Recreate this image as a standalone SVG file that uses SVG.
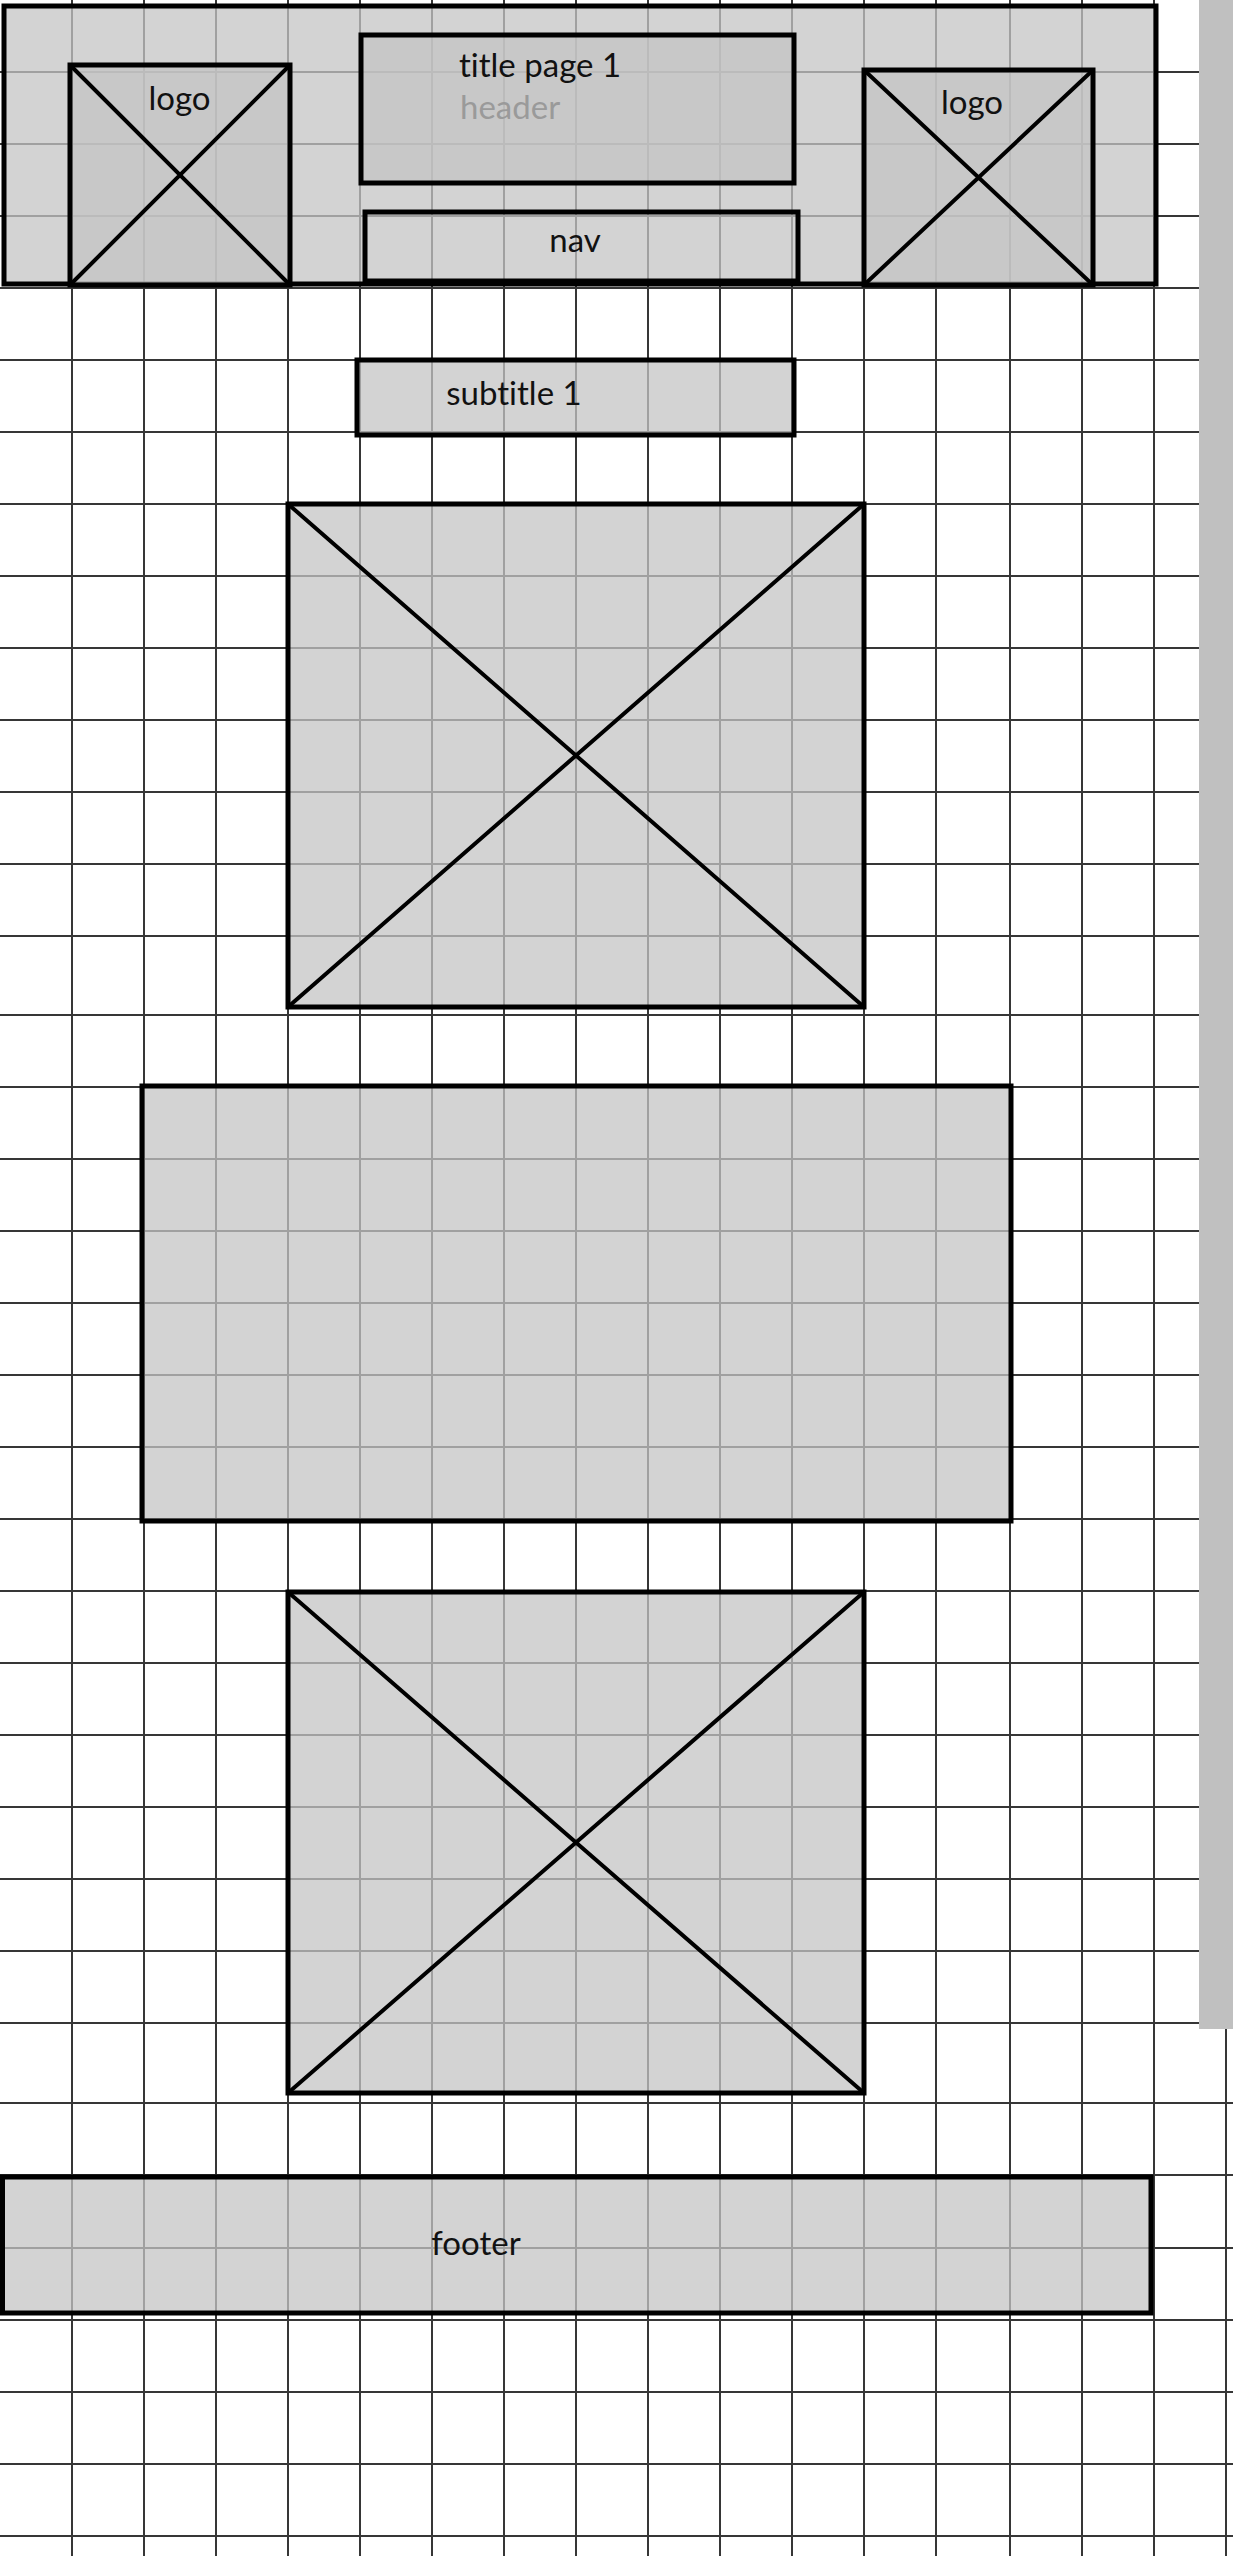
<svg xmlns="http://www.w3.org/2000/svg" width="1233" height="2556" viewBox="0 0 1233 2556">
<defs>
<style>
.g{stroke:#363636;stroke-width:2;fill:none}
.box{fill:#c4c4c4;fill-opacity:0.75;stroke:#000;stroke-width:5}
.frame{fill:none;stroke:#000;stroke-width:5}
.x{stroke:#000;stroke-width:4;fill:none}
.t{font-family:Lato,"Liberation Sans",sans-serif;font-size:33px;fill:#111;font-variant-ligatures:none;font-feature-settings:"liga" 0}
.tg{font-family:Lato,"Liberation Sans",sans-serif;font-size:33px;fill:#9a9a9a;font-variant-ligatures:none;font-feature-settings:"liga" 0}
</style>
</defs>
<rect x="0" y="0" width="1233" height="2556" fill="#ffffff"/>
<g id="grid" class="g">
<path d="M72 0V2556M144 0V2556M216 0V2556M288 0V2556M360 0V2556M432 0V2556M504 0V2556M576 0V2556M648 0V2556M720 0V2556M792 0V2556M864 0V2556M936 0V2556M1010 0V2556M1082 0V2556M1154 0V2556M1226 0V2556"/>
<path d="M0 72H1233M0 144H1233M0 216H1233M0 288H1233M0 360H1233M0 432H1233M0 504H1233M0 576H1233M0 648H1233M0 720H1233M0 792H1233M0 864H1233M0 936H1233M0 1015H1233M0 1087H1233M0 1159H1233M0 1231H1233M0 1303H1233M0 1375H1233M0 1447H1233M0 1519H1233M0 1591H1233M0 1663H1233M0 1735H1233M0 1807H1233M0 1879H1233M0 1951H1233M0 2023H1233M0 2103H1233M0 2175H1233M0 2248H1233M0 2320H1233M0 2392H1233M0 2464H1233M0 2536H1233"/>
</g>
<rect id="scrollbar" x="1199" y="0" width="34" height="2029" fill="#c0c0c0"/>
<g id="header">
<rect class="box" x="4" y="6" width="1152" height="278"/>
<g id="logo-left">
<rect class="box" x="70" y="65" width="220" height="220"/>
<path class="x" d="M70 65L290 285M290 65L70 285"/>
<text class="t" x="179.5" y="110" text-anchor="middle">logo</text>
</g>
<g id="title">
<rect class="box" x="361" y="35" width="433" height="148"/>
<text class="t" x="459" y="77">title page 1</text>
<text class="tg" x="460" y="119">header</text>
</g>
<g id="nav">
<rect class="frame" x="365" y="212" width="433" height="69"/>
<text class="t" x="575" y="252" text-anchor="middle">nav</text>
</g>
<g id="logo-right">
<rect class="box" x="864" y="70" width="229" height="215"/>
<path class="x" d="M864 70L1093 285M1093 70L864 285"/>
<text class="t" x="972" y="114" text-anchor="middle">logo</text>
</g>
</g>
<g id="subtitle">
<rect class="box" x="357" y="360" width="437" height="75"/>
<text class="t" x="514" y="405" text-anchor="middle">subtitle 1</text>
</g>
<g id="image-1">
<rect class="box" x="288" y="504" width="576" height="503"/>
<path class="x" d="M288 504L864 1007M864 504L288 1007"/>
</g>
<g id="content">
<rect class="box" x="142" y="1086" width="869" height="435"/>
</g>
<g id="image-2">
<rect class="box" x="288" y="1592" width="576" height="501"/>
<path class="x" d="M288 1592L864 2093M864 1592L288 2093"/>
</g>
<g id="footer">
<rect class="box" x="2.5" y="2177" width="1148.5" height="136"/>
<text class="t" x="476" y="2255" text-anchor="middle">footer</text>
</g>
</svg>
